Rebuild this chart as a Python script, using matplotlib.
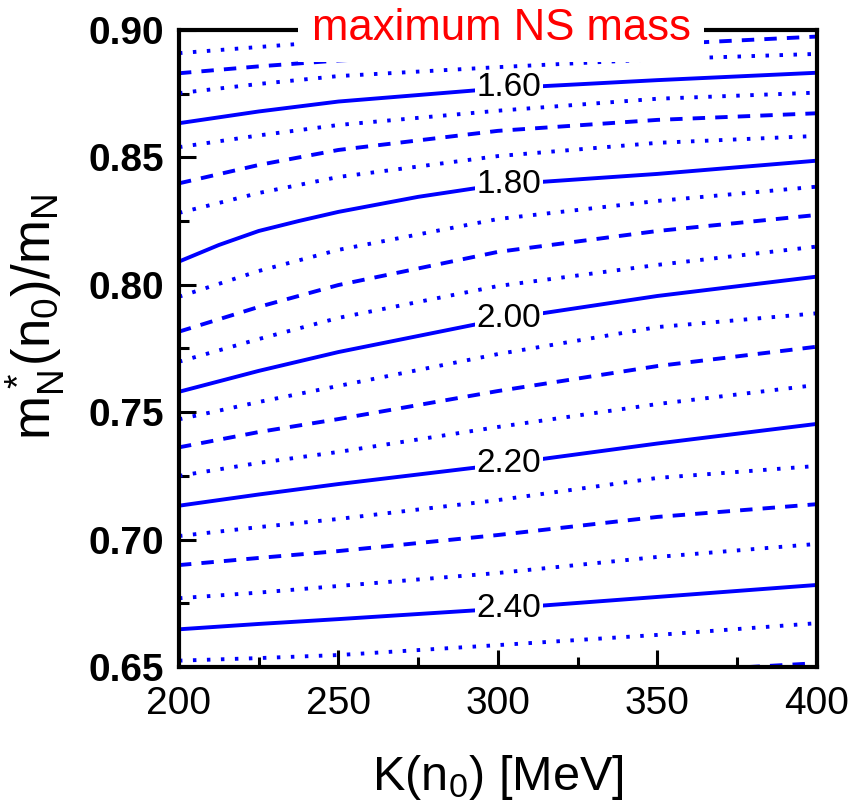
import matplotlib
matplotlib.use("Agg")
import matplotlib.pyplot as plt  # noqa: E402
import numpy as np  # noqa: E402
from matplotlib.ticker import FormatStrFormatter, MultipleLocator  # noqa: E402

plt.rcParams["font.family"] = ["Liberation Sans", "DejaVu Sans"]
plt.rcParams["mathtext.default"] = "regular"

# ── Data: effective-mass ratio along each max-mass contour ─────────────────────

K_GRID = [200, 225, 250, 300, 350, 400]  # K(n0) [MeV]
K_FINE = [200, 212.5, 225, 237.5, 250, 275, 300, 350, 400]  # for the curved 1.80 line
nan = float("nan")

ratio_145 = [0.8909, 0.8933, 0.8957, 0.9000, nan, nan]
ratio_150 = [0.8830, 0.8857, 0.8880, 0.8911, 0.8943, 0.8974]
ratio_155 = [0.8752, 0.8788, 0.8819, 0.8854, 0.8885, 0.8906]
ratio_160 = [0.8634, 0.8680, 0.8719, 0.8770, 0.8803, 0.8832]
ratio_165 = [0.8540, 0.8586, 0.8627, 0.8683, 0.8730, 0.8754]
ratio_170 = [0.8398, 0.8470, 0.8529, 0.8604, 0.8647, 0.8673]
ratio_175 = [0.8282, 0.8360, 0.8423, 0.8505, 0.8557, 0.8584]
ratio_180 = [0.8091, 0.8156, 0.8211, 0.8250, 0.8286, 0.8345, 0.8392, 0.8435, 0.8487]
ratio_185 = [0.7953, 0.8054, 0.8137, 0.8258, 0.8329, 0.8385]
ratio_190 = [0.7816, 0.7913, 0.7999, 0.8129, 0.8211, 0.8274]
ratio_195 = [0.7698, 0.7787, 0.7870, 0.7995, 0.8078, 0.8150]
ratio_200 = [0.7580, 0.7662, 0.7736, 0.7862, 0.7956, 0.8032]
ratio_205 = [0.7472, 0.7540, 0.7603, 0.7728, 0.7834, 0.7888]
ratio_210 = [0.7362, 0.7422, 0.7473, 0.7583, 0.7681, 0.7757]
ratio_215 = [0.7250, 0.7301, 0.7344, 0.7442, 0.7532, 0.7607]
ratio_220 = [0.7133, 0.7177, 0.7218, 0.7293, 0.7377, 0.7454]
ratio_225 = [0.7014, 0.7049, 0.7081, 0.7155, 0.7242, 0.7289]
ratio_230 = [0.6900, 0.6928, 0.6955, 0.7018, 0.7089, 0.7139]
ratio_235 = [0.6770, 0.6792, 0.6818, 0.6869, 0.6932, 0.6983]
ratio_240 = [0.6648, 0.6669, 0.6688, 0.6728, 0.6775, 0.6822]
ratio_245 = [0.6525, 0.6535, 0.6547, 0.6586, 0.6626, 0.6672]
ratio_250 = [nan, nan, nan, nan, 0.6480, 0.6515]

contours = [
    (1.45, K_GRID, ratio_145), (1.50, K_GRID, ratio_150),
    (1.55, K_GRID, ratio_155), (1.60, K_GRID, ratio_160),
    (1.65, K_GRID, ratio_165), (1.70, K_GRID, ratio_170),
    (1.75, K_GRID, ratio_175), (1.80, K_FINE, ratio_180),
    (1.85, K_GRID, ratio_185), (1.90, K_GRID, ratio_190),
    (1.95, K_GRID, ratio_195), (2.00, K_GRID, ratio_200),
    (2.05, K_GRID, ratio_205), (2.10, K_GRID, ratio_210),
    (2.15, K_GRID, ratio_215), (2.20, K_GRID, ratio_220),
    (2.25, K_GRID, ratio_225), (2.30, K_GRID, ratio_230),
    (2.35, K_GRID, ratio_235), (2.40, K_GRID, ratio_240),
    (2.45, K_GRID, ratio_245), (2.50, K_GRID, ratio_250),
]

LABEL_K = 303.5  # where the solid contours carry their value

BLUE = "#0000ff"
LW = 2.8
DASHED = (0, (3.2, 2.6))
DOTTED = (0, (0.9, 2.7))


def _style(level):
    step = int(round(level * 100))
    if step % 20 == 0:
        return "-"
    if step % 10 == 0:
        return DASHED
    return DOTTED


fig = plt.figure(figsize=(8.48, 8.09), dpi=100)
ax = fig.add_axes([0.211, 0.1755, 0.7523, 0.7875])

for level, ks, ratios in contours:
    style = _style(level)
    ax.plot(ks, ratios, color=BLUE, lw=LW, linestyle=style,
            dash_capstyle="butt", solid_joinstyle="round", zorder=2)
    if style == "-":
        y_lab = np.interp(LABEL_K, ks, ratios)
        ax.text(LABEL_K, y_lab, f"{level:.2f}", fontsize=24, color="black",
                ha="center", va="center", zorder=4,
                bbox=dict(boxstyle="square,pad=0.05", fc="white", ec="none"))

ax.set_xlim(200, 400)
ax.set_ylim(0.65, 0.90)

ax.xaxis.set_major_locator(MultipleLocator(50))
ax.xaxis.set_minor_locator(MultipleLocator(25))
ax.yaxis.set_major_locator(MultipleLocator(0.05))
ax.yaxis.set_minor_locator(MultipleLocator(0.025))
ax.yaxis.set_major_formatter(FormatStrFormatter("%.2f"))

ax.tick_params(which="both", direction="in", top=False, right=False, width=2.2)
ax.tick_params(which="major", length=12)
ax.tick_params(which="minor", length=7)
ax.tick_params(axis="x", which="major", labelsize=28, pad=14)
ax.tick_params(axis="y", which="major", labelsize=28, pad=11)
for lab in ax.get_yticklabels():
    lab.set_fontweight("bold")

for spine in ax.spines.values():
    spine.set_linewidth(3)

ax.set_xlabel(r"K(n$_0$) [MeV]", fontsize=35, labelpad=22)
ax.set_ylabel(r"$m^*_N(n_0)/m_N$", fontsize=38)
ax.yaxis.set_label_coords(-0.176, 0.55)

ax.text(0.505, 0.9843, "maximum NS mass", transform=ax.transAxes,
        fontsize=31.5, color="#ff0000", ha="center", va="baseline",
        zorder=5, clip_on=False,
        bbox=dict(boxstyle="square,pad=0.3", fc="white", ec="none"))

fig.savefig("out.png", dpi=100)
